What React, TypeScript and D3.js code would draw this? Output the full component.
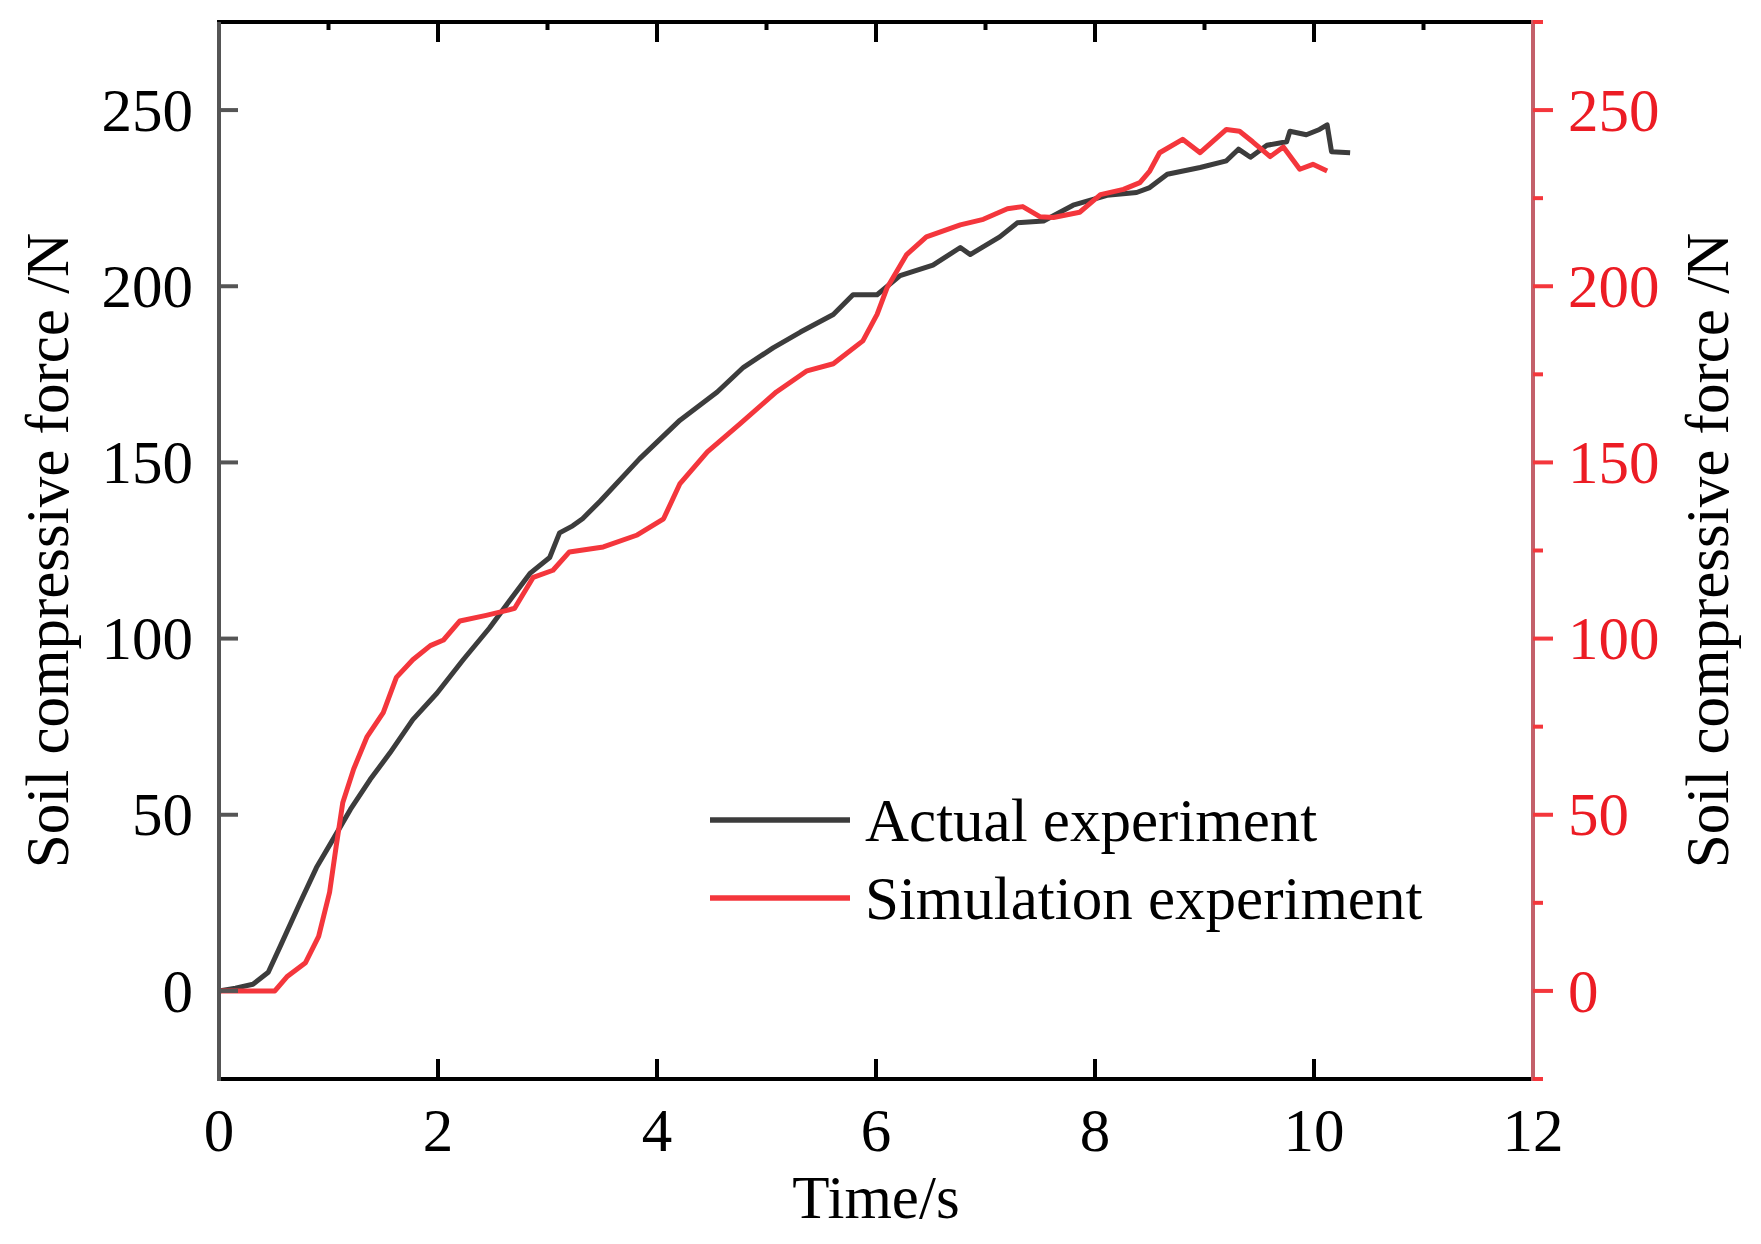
import * as d3 from "d3";

// values
const actualTime = [0, 0.15, 0.31, 0.45, 0.56, 0.74, 0.89, 1.06, 1.2, 1.38, 1.56, 1.77, 1.99, 2.23, 2.47, 2.66, 2.84, 3.02, 3.11, 3.23, 3.32, 3.48, 3.84, 4.21, 4.55, 4.79, 5.06, 5.31, 5.61, 5.79, 6.01, 6.22, 6.52, 6.77, 6.86, 7.13, 7.29, 7.53, 7.8, 8.11, 8.38, 8.5, 8.66, 8.96, 9.2, 9.31, 9.42, 9.57, 9.75, 9.78, 9.93, 10.05, 10.12, 10.16, 10.33];
const actualForce = [0, 0.8, 1.9, 5.3, 12.7, 25, 35, 44, 51.5, 60, 67.5, 77, 84.5, 94, 103, 111, 118.5, 123, 130, 132, 134, 139, 151, 162, 170, 177, 182.5, 187, 192, 197.6, 197.6, 203, 206, 211, 209, 214, 218, 218.5, 223, 225.8, 226.6, 228, 231.8, 233.7, 235.6, 238.9, 236.6, 240, 241, 244, 243, 244.5, 245.8, 238.2, 237.9];

const simTime = [0, 0.51, 0.62, 0.79, 0.91, 1.01, 1.07, 1.13, 1.23, 1.35, 1.5, 1.62, 1.77, 1.93, 2.05, 2.2, 2.44, 2.63, 2.7, 2.87, 3.05, 3.2, 3.51, 3.82, 4.06, 4.21, 4.46, 4.76, 5.09, 5.37, 5.61, 5.88, 6.01, 6.1, 6.28, 6.46, 6.77, 6.98, 7.2, 7.34, 7.5, 7.62, 7.86, 8.05, 8.26, 8.41, 8.5, 8.59, 8.8, 8.96, 9.2, 9.32, 9.44, 9.6, 9.72, 9.87, 9.99, 10.12];
const simForce = [0, 0, 4, 8, 15.5, 28, 41, 53.4, 63, 72, 79, 89, 94, 98, 99.6, 105, 106.6, 108, 108.6, 117.4, 119.4, 124.6, 126, 129.4, 134, 144, 153, 161, 170, 176, 178, 184.5, 192, 199.5, 209, 214, 217.4, 219, 222, 222.6, 219.7, 219.5, 221, 226, 227.5, 229.4, 232.7, 237.9, 241.7, 237.9, 244.5, 244, 241, 236.8, 239.5, 233.2, 234.6, 232.7];

const xTicks = [0, 2, 4, 6, 8, 10, 12];
const xMinor = [1, 3, 5, 7, 9, 11];
const yTicks = [0, 50, 100, 150, 200, 250];
const yMinor = [-25, 25, 75, 125, 175, 225, 275];

const seriesNames = ["Actual experiment", "Simulation experiment"];

const font = "'Liberation Serif', 'Times New Roman', serif";
const grey = "#3c3c3c";
const red = "#f4363c";

export default function App() {
  const width = 1761;
  const height = 1244;
  const left = 219;
  const right = 1533;
  const top = 22;
  const bottom = 1079;

  const x = d3.scaleLinear([0, 12], [left, right]);
  const y = d3.scaleLinear([-25, 275], [bottom, top]);

  const path = (ts: number[], vs: number[]) =>
    d3
      .line<number>()
      .x((t) => x(t))
      .y((_t, i) => y(vs[i]))(ts) || "";

  return (
    <svg
      width={width}
      height={height}
      style={{ position: "absolute", left: 0, top: 0, background: "#fff" }}
      fontFamily={font}
    >
      <rect width={width} height={height} fill="#fff" />

      {/* data */}
      <path d={path(actualTime, actualForce)} fill="none" stroke={grey} strokeWidth={5} strokeLinejoin="round" />
      <path d={path(simTime, simForce)} fill="none" stroke={red} strokeWidth={5} strokeLinejoin="round" />

      {/* top axis */}
      <line x1={left - 2} x2={right} y1={top} y2={top} stroke="#000" strokeWidth={4} />
      {xTicks.map((t) => (
        <line key={"tt" + t} x1={x(t)} x2={x(t)} y1={top} y2={top + 20} stroke="#000" strokeWidth={4} />
      ))}
      {xMinor.map((t) => (
        <line key={"tm" + t} x1={x(t)} x2={x(t)} y1={top} y2={top + 8} stroke="#000" strokeWidth={4} />
      ))}

      {/* bottom axis */}
      <line x1={left - 2} x2={right} y1={bottom} y2={bottom} stroke="#000" strokeWidth={4} />
      {xTicks.map((t) => (
        <g key={"bt" + t}>
          <line x1={x(t)} x2={x(t)} y1={bottom} y2={bottom - 20} stroke="#000" strokeWidth={4} />
          <text x={x(t)} y={1151} textAnchor="middle" fontSize={61} fill="#000">
            {t}
          </text>
        </g>
      ))}
      <text x={(left + right) / 2} y={1218} textAnchor="middle" fontSize={61} fill="#000">
        Time/s
      </text>

      {/* left axis */}
      <line x1={left} x2={left} y1={top} y2={bottom + 2} stroke="#555" strokeWidth={4} />
      {yTicks.map((v) => (
        <g key={"ly" + v}>
          <line x1={left} x2={left + 19} y1={y(v)} y2={y(v)} stroke="#555" strokeWidth={4} />
          <text x={193} y={y(v)} dy="0.34em" textAnchor="end" fontSize={61} fill="#000">
            {v}
          </text>
        </g>
      ))}
      <text
        transform={`translate(68,${(top + bottom) / 2}) rotate(-90)`}
        textAnchor="middle"
        fontSize={61}
        fill="#000"
      >
        Soil compressive force /N
      </text>

      {/* right axis */}
      <line x1={right} x2={right} y1={top - 2} y2={bottom + 2} stroke="#c4606a" strokeWidth={4} />
      {yTicks.map((v) => (
        <g key={"ry" + v}>
          <line x1={right} x2={right + 20} y1={y(v)} y2={y(v)} stroke={red} strokeWidth={4} />
          <text x={1568} y={y(v)} dy="0.34em" textAnchor="start" fontSize={61} fill="#ec1c24">
            {v}
          </text>
        </g>
      ))}
      {yMinor.map((v) => (
        <line key={"rm" + v} x1={right} x2={right + 10} y1={y(v)} y2={y(v)} stroke={red} strokeWidth={4} />
      ))}
      <text
        transform={`translate(1728,${(top + bottom) / 2}) rotate(-90)`}
        textAnchor="middle"
        fontSize={61}
        fill="#000"
      >
        Soil compressive force /N
      </text>

      {/* legend */}
      {seriesNames.map((name, i) => (
        <g key={name} transform={`translate(0,${820 + i * 78})`}>
          <line x1={710} x2={850} y1={0} y2={0} stroke={i === 0 ? grey : red} strokeWidth={5.5} />
          <text x={865} y={0} dy="0.34em" fontSize={61} fill="#000">
            {name}
          </text>
        </g>
      ))}
    </svg>
  );
}
